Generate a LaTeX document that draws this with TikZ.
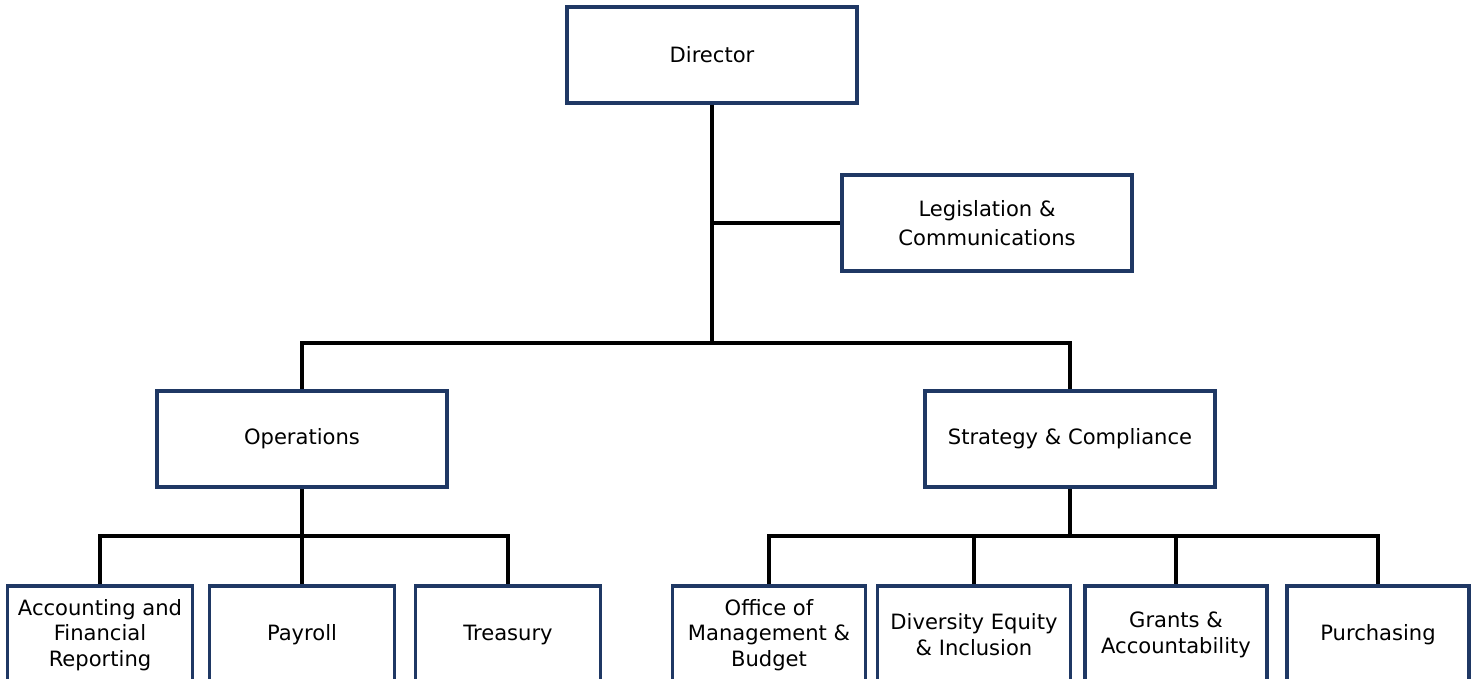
\documentclass[tikz,border=0pt]{standalone}
\usepackage{fontspec}
\setmainfont{DejaVu Sans}
\definecolor{boxblue}{RGB}{31,56,100}

\begin{document}
\begin{tikzpicture}[x=0.02cm, y=-0.02cm,
    unit/.style={draw=boxblue, line width=2pt, minimum width=5.8cm, minimum height=1.92cm,
        align=center, font=\fontsize{12}{16.5}\selectfont, inner sep=0pt},
    team/.style={unit, minimum width=3.7cm, minimum height=1.96cm, anchor=north,
        font=\fontsize{12}{14.5}\selectfont},
    link/.style={draw=black, line width=2pt}]
    \clip (0, 0) rectangle (1478, 679);

    \node[unit] at (712, 55) (dir) {Director};
    \node[unit] at (987, 223) (legis) {Legislation \&\\Communications};
    \node[unit] at (302, 439) (ops) {Operations};
    \node[unit] at (1070, 439) (strat) {Strategy \& Compliance};

    \node[team] at (100, 584) (acct) {Accounting and\\Financial\\Reporting};
    \node[team] at (302, 584) (payroll) {Payroll};
    \node[team] at (508, 584) (treas) {Treasury};

    \node[team, minimum width=3.86cm] at (769, 584) (omb) {Office of\\Management \&\\Budget};
    \node[team, minimum width=3.86cm] at (974, 584) (dei) {Diversity Equity\\\& Inclusion};
    \node[team, minimum width=3.64cm] at (1176, 584) (grants) {Grants \&\\Accountability};
    \node[team, minimum width=3.64cm] at (1378, 584) (purch) {Purchasing};

    \coordinate (topbar) at (712, 343);
    \coordinate (opsbar) at (302, 536);
    \coordinate (stratbar) at (1070, 536);

    \draw[link] (dir) -- (topbar);
    \draw[link] (dir |- legis) -- (legis);
    \draw[link] (topbar) -| (ops);
    \draw[link] (topbar) -| (strat);

    \draw[link] (ops) -- (opsbar);
    \draw[link] (opsbar) -| (acct);
    \draw[link] (opsbar) -- (payroll);
    \draw[link] (opsbar) -| (treas);

    \draw[link] (strat) -- (stratbar);
    \draw[link] (stratbar) -| (omb);
    \draw[link] (stratbar) -| (dei);
    \draw[link] (stratbar) -| (grants);
    \draw[link] (stratbar) -| (purch);
\end{tikzpicture}
\end{document}
